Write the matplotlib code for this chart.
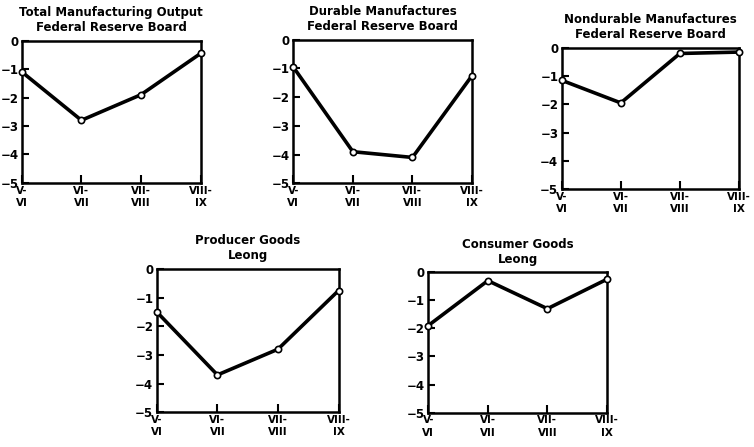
import matplotlib
matplotlib.use("Agg")
import matplotlib.pyplot as plt

plt.rcParams['font.family'] = ['DejaVu Sans']
plt.rcParams['font.weight'] = 'bold'

periods = ["V-\nVI", "VI-\nVII", "VII-\nVIII", "VIII-\nIX"]
y_ticks = [0, -1, -2, -3, -4, -5]
y_labels = ["0", "\u22121", "\u22122", "\u22123", "\u22124", "\u22125"]

total_fed = [-1.1, -2.8, -1.9, -0.45]
durable_fed = [-0.95, -3.9, -4.1, -1.25]
nondurable_fed = [-1.15, -1.95, -0.2, -0.15]
producer_leong = [-1.5, -3.7, -2.8, -0.75]
consumer_leong = [-1.9, -0.3, -1.3, -0.25]

panels = [
    ("Total Manufacturing Output\nFederal Reserve Board", total_fed,
     [0.029, 0.591, 0.237, 0.318]),
    ("Durable Manufactures\nFederal Reserve Board", durable_fed,
     [0.389, 0.590, 0.237, 0.321]),
    ("Nondurable Manufactures\nFederal Reserve Board", nondurable_fed,
     [0.745, 0.577, 0.235, 0.316]),
    ("Producer Goods\nLeong", producer_leong,
     [0.208, 0.078, 0.241, 0.320]),
    ("Consumer Goods\nLeong", consumer_leong,
     [0.568, 0.077, 0.237, 0.314]),
]

fig = plt.figure(figsize=(7.54, 4.47), dpi=100)

for title, values, rect in panels:
    ax = fig.add_axes(rect)
    x = range(len(periods))
    ax.plot(x, values, color="black", lw=2.6, marker="o", ms=4.5,
            mfc="white", mec="black", mew=1.2, clip_on=False, zorder=3)
    ax.set_xlim(0, len(periods) - 1)
    ax.set_ylim(-5, 0)
    ax.set_xticks(list(x))
    ax.set_xticklabels(periods, fontsize=7.5, linespacing=1.3)
    ax.set_yticks(y_ticks)
    ax.set_yticklabels(y_labels, fontsize=8.5)
    ax.tick_params(axis="y", direction="in", length=5, width=1.5, pad=2.5)
    ax.tick_params(axis="x", direction="in", length=6, width=1.5, pad=2)
    for s in ax.spines.values():
        s.set_linewidth(1.8)
    ax.set_title(title, fontsize=8.5, fontweight="bold", linespacing=1.2, pad=7)

fig.savefig("out.png", dpi=100)
